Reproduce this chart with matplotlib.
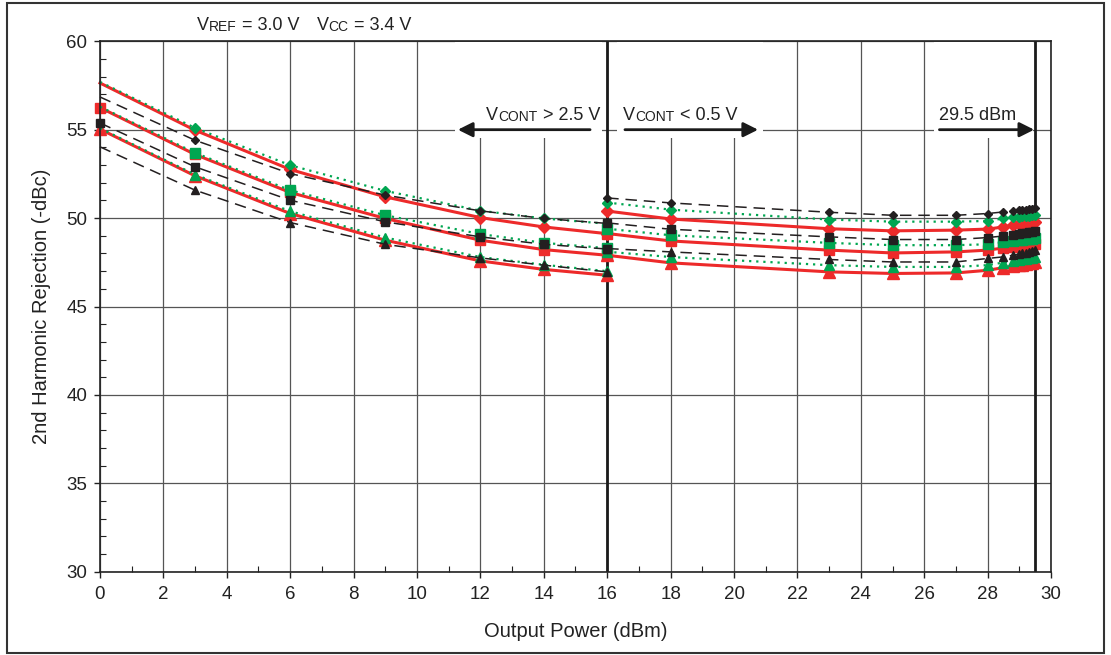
import matplotlib
matplotlib.use('Agg')
import matplotlib.pyplot as plt
from matplotlib.patches import Rectangle
from matplotlib.ticker import MultipleLocator

plt.rcParams['font.family'] = ['Liberation Sans', 'DejaVu Sans']

# x positions (dBm): two sweeps, split at 16 dBm
x1 = [0, 3, 6, 9, 12, 14, 16]
x2 = [16, 18, 23, 25, 27, 28, 28.5, 28.8, 29.0, 29.1, 29.2, 29.3, 29.4, 29.5]

# sweep 1 (Vcont > 2.5 V)
red_dia_1 = [57.64, 54.97, 52.75, 51.20, 50.03, 49.50, 49.12]
grn_dia_1 = [57.70, 55.10, 52.99, 51.54, 50.42, 49.98, 49.68]
blk_dia_1 = [56.85, 54.40, 52.52, 51.30, 50.41, 49.98, 49.70]
red_sq_1 = [56.25, 53.60, 51.45, 49.98, 48.75, 48.22, 47.90]
grn_sq_1 = [56.30, 53.69, 51.58, 50.16, 49.10, 48.60, 48.30]
blk_sq_1 = [55.38, 52.90, 51.01, 49.79, 48.94, 48.52, 48.25]
red_tri_1 = [55.03, 52.39, 50.26, 48.75, 47.58, 47.10, 46.77]
grn_tri_1 = [55.08, 52.46, 50.39, 48.90, 47.80, 47.36, 47.00]
blk_tri_1 = [54.03, 51.58, 49.75, 48.52, 47.75, 47.34, 46.96]

# sweep 2 (Vcont < 0.5 V)
red_dia_2 = [50.40, 49.95, 49.40, 49.28, 49.32, 49.38, 49.50, 49.60, 49.65, 49.68, 49.70, 49.73, 49.76, 49.80]
grn_dia_2 = [50.88, 50.48, 49.92, 49.80, 49.80, 49.84, 49.98, 50.04, 50.08, 50.10, 50.12, 50.14, 50.15, 50.17]
blk_dia_2 = [51.14, 50.86, 50.33, 50.16, 50.16, 50.26, 50.35, 50.40, 50.44, 50.46, 50.48, 50.50, 50.52, 50.55]
red_sq_2 = [49.13, 48.71, 48.19, 48.03, 48.09, 48.19, 48.31, 48.38, 48.42, 48.44, 48.46, 48.48, 48.50, 48.53]
grn_sq_2 = [49.40, 49.03, 48.60, 48.47, 48.47, 48.52, 48.65, 48.72, 48.76, 48.78, 48.80, 48.82, 48.84, 48.86]
blk_sq_2 = [49.73, 49.37, 48.94, 48.79, 48.79, 48.90, 48.99, 49.06, 49.12, 49.15, 49.18, 49.21, 49.24, 49.27]
red_tri_2 = [47.90, 47.47, 46.96, 46.87, 46.90, 47.05, 47.20, 47.28, 47.34, 47.37, 47.40, 47.44, 47.48, 47.52]
grn_tri_2 = [48.10, 47.80, 47.34, 47.24, 47.24, 47.34, 47.49, 47.57, 47.63, 47.66, 47.69, 47.72, 47.76, 47.80]
blk_tri_2 = [48.28, 48.09, 47.66, 47.52, 47.52, 47.72, 47.81, 47.90, 47.97, 48.00, 48.04, 48.08, 48.12, 48.19]

RED = '#ed2a2a'
GRN = '#00a651'
BLK = '#231f20'

fig = plt.figure(figsize=(11.11, 6.55), dpi=100)
ax = fig.add_axes([0.090, 0.127, 0.856, 0.810])

red = dict(color=RED, lw=2.2, ls='-', zorder=3, clip_on=False)
grn = dict(color=GRN, lw=1.6, ls=(0, (1, 2.2)), zorder=4, clip_on=False)
blk = dict(color=BLK, lw=1.1, ls=(0, (7.5, 4.5)), zorder=5, clip_on=False)

skip0 = list(range(1, len(x1)))

# sweep 1
ax.plot(x1, red_dia_1, marker='D', ms=6.5, markevery=skip0, **red)
ax.plot(x1, red_sq_1, marker='s', ms=7.5, **red)
ax.plot(x1, red_tri_1, marker='^', ms=8, **red)
ax.plot(x1, grn_dia_1, marker='D', ms=5, markevery=skip0, **grn)
ax.plot(x1, grn_sq_1, marker='s', ms=6.5, markevery=skip0, **grn)
ax.plot(x1, grn_tri_1, marker='^', ms=6.5, markevery=skip0, **grn)
ax.plot(x1, blk_dia_1, marker='D', ms=4.5, markevery=skip0, **blk)
ax.plot(x1, blk_sq_1, marker='s', ms=6, **blk)
ax.plot(x1, blk_tri_1, marker='^', ms=5.5, markevery=skip0, **blk)

# sweep 2
ax.plot(x2, red_dia_2, marker='D', ms=6.5, **red)
ax.plot(x2, red_sq_2, marker='s', ms=7.5, **red)
ax.plot(x2, red_tri_2, marker='^', ms=8, **red)
ax.plot(x2, grn_dia_2, marker='D', ms=5, **grn)
ax.plot(x2, grn_sq_2, marker='s', ms=6.5, **grn)
ax.plot(x2, grn_tri_2, marker='^', ms=6.5, **grn)
ax.plot(x2, blk_dia_2, marker='D', ms=4.5, **blk)
ax.plot(x2, blk_sq_2, marker='s', ms=6, **blk)
ax.plot(x2, blk_tri_2, marker='^', ms=5.5, **blk)

ax.set_xlim(0, 30)
ax.set_ylim(30, 60)
ax.xaxis.set_major_locator(MultipleLocator(2))
ax.xaxis.set_minor_locator(MultipleLocator(1))
ax.yaxis.set_major_locator(MultipleLocator(5))
ax.yaxis.set_minor_locator(MultipleLocator(1))
ax.tick_params(which='major', direction='out', length=4, width=1, labelsize=13.5, colors='#222')
ax.tick_params(axis='x', which='major', pad=6)
ax.tick_params(axis='y', which='major', pad=5)
ax.tick_params(which='minor', direction='in', length=4, width=0.8, colors='#222')
for s in ax.spines.values():
    s.set_linewidth(1.2)
    s.set_color('#222')
    s.set_zorder(7)

ax.set_axisbelow(True)
ax.grid(which='major', color='#555', lw=0.9)
ax.axvline(16, color='#1a1a1a', lw=2.0, zorder=2.6)
ax.axvline(29.5, color='#1a1a1a', lw=2.0, zorder=2.6)

# white boxes behind the annotations
for xa, xb in [(11.2, 15.85), (16.3, 20.9), (26.3, 29.42)]:
    ax.add_patch(Rectangle((xa, 54.55), xb - xa, 5.4, facecolor='white', edgecolor='none', zorder=1))

ax.set_xlabel('Output Power (dBm)', fontsize=14.5, labelpad=14, color='#222')
ax.set_ylabel('2nd Harmonic Rejection (-dBc)', fontsize=14.5, labelpad=11, color='#222')


def rich(x, y, parts):
    s, fs, gap = parts[0]
    t = ax.text(x, y, s, fontsize=fs, va='baseline', ha='left', clip_on=False, zorder=6, color='#222')
    for s, fs, gap in parts[1:]:
        t = ax.annotate(s, xy=(1, 0), xycoords=t, xytext=(gap, 0), textcoords='offset points',
                        fontsize=fs, va='bottom', ha='left', annotation_clip=False, zorder=6, color='#222')


rich(3.06, 60.62, [('V', 13, 0), ('REF', 10, 0), ('= 3.0 V', 13, 4),
                   ('V', 13, 12), ('CC', 10, 0), ('= 3.4 V', 13, 4)])
rich(12.18, 55.53, [('V', 13, 0), ('CONT', 10, 0), ('> 2.5 V', 13, 4)])
rich(16.51, 55.53, [('V', 13, 0), ('CONT', 10, 0), ('< 0.5 V', 13, 4)])
rich(26.48, 55.53, [('29.5 dBm', 13, 0)])

arrow = dict(arrowstyle='-|>', color='#1a1a1a', lw=2, mutation_scale=22, shrinkA=0, shrinkB=0)
ax.annotate('', xy=(11.29, 55), xytext=(15.46, 55), arrowprops=arrow, zorder=6)
ax.annotate('', xy=(20.76, 55), xytext=(16.56, 55), arrowprops=arrow, zorder=6)
ax.annotate('', xy=(29.47, 55), xytext=(26.48, 55), arrowprops=arrow, zorder=6)

# outer frame
fig.patches.append(Rectangle((7 / 1111, 2 / 655), 1097 / 1111, 650 / 655, transform=fig.transFigure,
                             fill=False, lw=1.5, edgecolor='#333'))

fig.savefig('out.png', dpi=100)
